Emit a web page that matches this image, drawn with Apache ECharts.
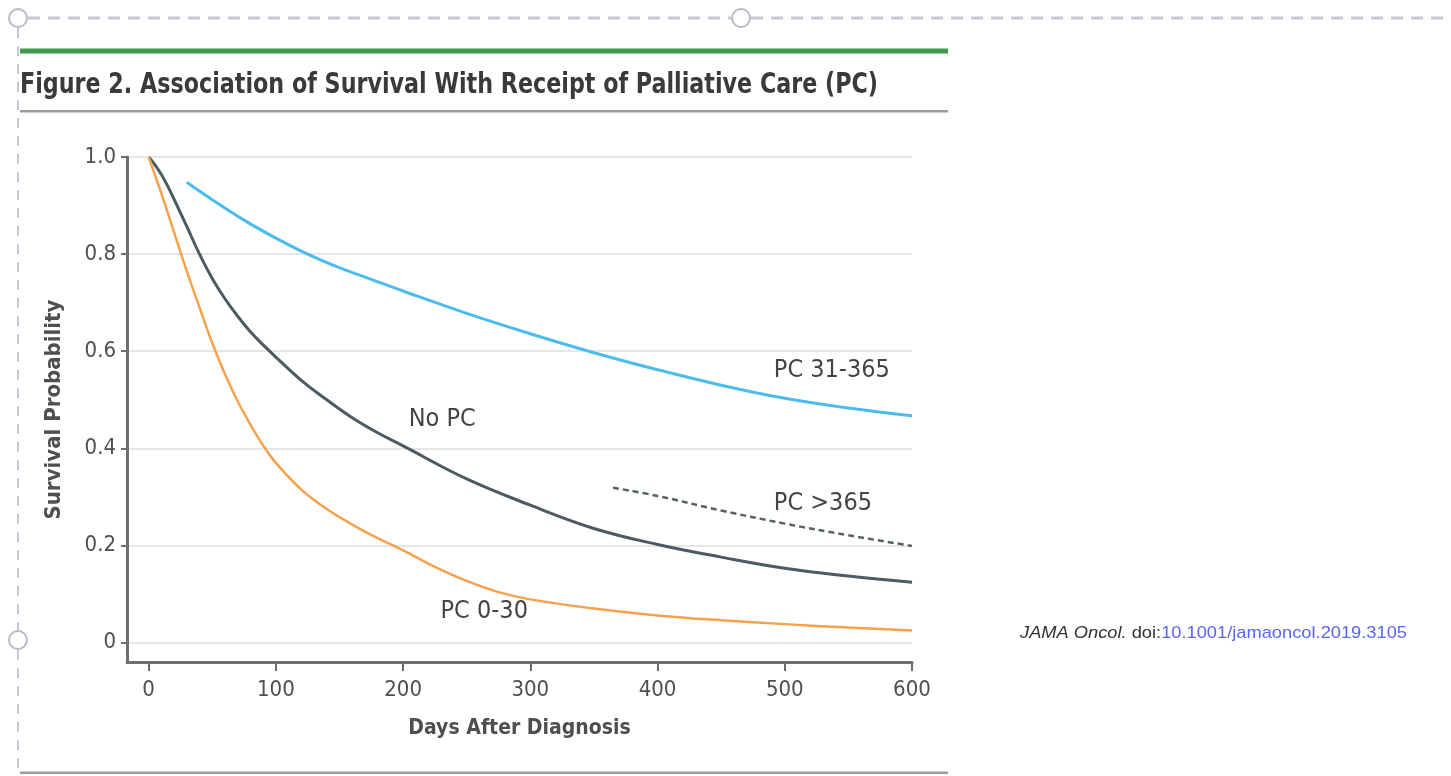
<!DOCTYPE html>
<html>
<head>
<meta charset="utf-8">
<script src="https://cdn.jsdelivr.net/npm/echarts@6/dist/echarts.min.js"></script>
<style>
html,body{margin:0;padding:0;background:#fff;}
#chart{width:1451px;height:776px;}
</style>
</head>
<body>
<div id="chart"></div>
<script>
// ---- data ----
const noPcDays   = [0, 5, 10, 15, 20, 30, 40, 50, 60, 70, 80, 90, 100, 120, 140, 160, 180, 200, 250, 300, 350, 400, 450, 500, 550, 600];
const noPcValues = [1.0, 0.984, 0.964, 0.94, 0.913, 0.857, 0.80, 0.75, 0.708, 0.672, 0.64, 0.613, 0.588, 0.54, 0.50, 0.463, 0.432, 0.405, 0.337, 0.283, 0.235, 0.202, 0.176, 0.153, 0.137, 0.124];

const pc030Days   = [0, 10, 20, 30, 40, 50, 60, 70, 80, 90, 100, 120, 140, 160, 180, 200, 225, 250, 275, 300, 350, 400, 450, 500, 550, 600];
const pc030Values = [1.0, 0.925, 0.845, 0.765, 0.69, 0.617, 0.553, 0.497, 0.449, 0.406, 0.37, 0.315, 0.275, 0.243, 0.215, 0.19, 0.156, 0.127, 0.104, 0.089, 0.07, 0.056, 0.046, 0.038, 0.031, 0.025];

const pc31Days   = [30, 50, 75, 100, 125, 150, 175, 200, 250, 300, 350, 400, 450, 500, 550, 600];
const pc31Values = [0.948, 0.912, 0.87, 0.833, 0.80, 0.772, 0.748, 0.724, 0.678, 0.636, 0.597, 0.562, 0.53, 0.503, 0.483, 0.467];

const pc365Days   = [365, 400, 450, 500, 550, 600];
const pc365Values = [0.319, 0.302, 0.272, 0.245, 0.221, 0.199];

const xTickValues = [0, 100, 200, 300, 400, 500, 600];
const xTickLabels = ['0', '100', '200', '300', '400', '500', '600'];
const yTickValues = [0, 0.2, 0.4, 0.6, 0.8, 1.0];
const yTickLabels = ['0', '0.2', '0.4', '0.6', '0.8', '1.0'];

const curveNames  = ['PC 31-365', 'No PC', 'PC >365', 'PC 0-30'];
const labelDays   = [491, 204, 491, 229];
const labelValues = [0.561, 0.46, 0.287, 0.064];

const titleText = 'Figure 2. Association of Survival With Receipt of Palliative Care (PC)';
const citeItalic = 'JAMA Oncol.';
const citeDoi = ' doi:';
const citeLink = '10.1001/jamaoncol.2019.3105';

// ---- helpers ----
const FONT = '"DejaVu Sans Condensed", "Liberation Sans", sans-serif';
const CITE_FONT = '"Liberation Sans", sans-serif';
function zip(a, b) { return a.map((d, i) => [d, b[i]]); }
function measure(text, font) {
  const c = document.createElement('canvas').getContext('2d');
  c.font = font;
  return c.measureText(text).width;
}
const titleFontSize = 29;
const titleW = measure(titleText, 'bold ' + titleFontSize + 'px ' + FONT);
const titleScale = 858 / titleW;
const citeSize = 17;
const citeW = measure(citeItalic, 'italic ' + citeSize + 'px ' + CITE_FONT) + measure(citeDoi + citeLink, citeSize + 'px ' + CITE_FONT);
const citeScale = 387 / citeW;

const chart = echarts.init(document.getElementById('chart'));
const axisColor = '#6e6e6e';
const labelColor = '#4f4f4f';

const option = {
  animation: false,
  backgroundColor: '#fff',
  grid: { left: 127, right: 539, top: 157, bottom: 114, containLabel: false },
  xAxis: {
    type: 'value', min: -17, max: 600,
    axisLine: { show: true, onZero: false, lineStyle: { color: axisColor, width: 3 } },
    axisTick: { show: true, inside: false, length: 9, lineStyle: { color: axisColor, width: 2 }, customValues: xTickValues },
    axisLabel: {
      customValues: xTickValues, margin: 17, fontSize: 22, color: labelColor, fontFamily: FONT,
      formatter: v => { const i = xTickValues.indexOf(v); return i >= 0 ? xTickLabels[i] : ''; }
    },
    splitLine: { show: false },
    name: 'Days After Diagnosis', nameLocation: 'middle', nameGap: 56,
    nameTextStyle: { fontSize: 21, color: labelColor, fontWeight: 'bold', fontFamily: FONT }
  },
  yAxis: {
    type: 'value', min: -0.04, max: 1.0,
    axisLine: { show: true, onZero: false, lineStyle: { color: axisColor, width: 3 } },
    axisTick: { show: true, inside: false, length: 6, lineStyle: { color: axisColor, width: 2 }, customValues: yTickValues },
    axisLabel: {
      customValues: yTickValues, margin: 11, fontSize: 22, color: labelColor, fontFamily: FONT,
      formatter: v => { const i = yTickValues.findIndex(t => Math.abs(t - v) < 1e-9); return i >= 0 ? yTickLabels[i] : ''; }
    },
    splitLine: { show: true, lineStyle: { color: '#e6e6e6', width: 2 } },
    name: 'Survival Probability', nameLocation: 'middle', nameGap: 62,
    nameTextStyle: { fontSize: 22, color: labelColor, fontWeight: 'bold', fontFamily: FONT }
  },
  series: [
    { name: 'PC 31-365', type: 'line', data: zip(pc31Days, pc31Values), smooth: 0.4, showSymbol: false,
      lineStyle: { color: '#4dbbec', width: 3 }, z: 3 },
    { name: 'No PC', type: 'line', data: zip(noPcDays, noPcValues), smooth: 0.4, showSymbol: false,
      lineStyle: { color: '#4b5b62', width: 3 }, z: 3 },
    { name: 'PC >365', type: 'line', data: zip(pc365Days, pc365Values), smooth: 0.4, showSymbol: false,
      lineStyle: { color: '#566267', width: 2.5, type: [6, 4] }, z: 3 },
    { name: 'PC 0-30', type: 'line', data: zip(pc030Days, pc030Values), smooth: 0.4, showSymbol: false,
      lineStyle: { color: '#f6a24c', width: 2.5 }, z: 3 },
    { name: 'labels', type: 'scatter', silent: true, symbolSize: 1, itemStyle: { color: 'rgba(0,0,0,0)' },
      data: curveNames.map((n, i) => [labelDays[i], labelValues[i], n]),
      label: { show: true, position: 'right', distance: 0, formatter: p => p.data[2], opacity: 1,
        fontSize: 25, color: '#444', fontFamily: FONT }, z: 4 }
  ],
  graphic: [
    // selection frame (dashed)
    { type: 'line', shape: { x1: 28, y1: 18, x2: 731, y2: 18 }, style: { stroke: '#c6c6d6', lineWidth: 3, lineDash: [12, 8] }, silent: true },
    { type: 'line', shape: { x1: 751, y1: 18, x2: 1451, y2: 18 }, style: { stroke: '#c6c6d6', lineWidth: 3, lineDash: [12, 8] }, silent: true },
    { type: 'line', shape: { x1: 18, y1: 28, x2: 18, y2: 630 }, style: { stroke: '#c6c6d6', lineWidth: 2, lineDash: [10, 8] }, silent: true },
    { type: 'line', shape: { x1: 18, y1: 650, x2: 18, y2: 776 }, style: { stroke: '#c6c6d6', lineWidth: 2, lineDash: [10, 8] }, silent: true },
    { type: 'circle', shape: { cx: 18, cy: 18, r: 9 }, style: { stroke: '#b9b9cc', lineWidth: 2, fill: '#fff' }, silent: true },
    { type: 'circle', shape: { cx: 741, cy: 18, r: 9 }, style: { stroke: '#b9b9cc', lineWidth: 2, fill: '#fff' }, silent: true },
    { type: 'circle', shape: { cx: 18, cy: 640, r: 9 }, style: { stroke: '#b9b9cc', lineWidth: 2, fill: '#fff' }, silent: true },
    // figure header rules
    { type: 'rect', shape: { x: 20, y: 48.5, width: 928, height: 5 }, style: { fill: '#3e9c47' }, silent: true },
    { type: 'rect', shape: { x: 20, y: 110, width: 928, height: 2.5 }, style: { fill: '#9c9c9c' }, silent: true },
    { type: 'rect', shape: { x: 20, y: 771.5, width: 928, height: 2.5 }, style: { fill: '#9c9c9c' }, silent: true },
    // title
    { type: 'text', x: 20, y: 85, scaleX: titleScale, silent: true,
      style: { text: titleText, fontSize: titleFontSize, fontWeight: 'bold', fontFamily: FONT, fill: '#3a3a3a',
        textAlign: 'left', textVerticalAlign: 'middle' } },
    // citation
    { type: 'text', x: 1020, y: 633, scaleX: citeScale, silent: true,
      style: { text: '{it|' + citeItalic + '}{n|' + citeDoi + '}{lk|' + citeLink + '}',
        textVerticalAlign: 'middle', textAlign: 'left',
        rich: {
          it: { fontStyle: 'italic', fontSize: citeSize, fill: '#333', fontFamily: CITE_FONT },
          n:  { fontSize: citeSize, fill: '#333', fontFamily: CITE_FONT },
          lk: { fontSize: citeSize, fill: '#5866f0', fontFamily: CITE_FONT }
        } } }
  ]
};
chart.setOption(option);
</script>
</body>
</html>
